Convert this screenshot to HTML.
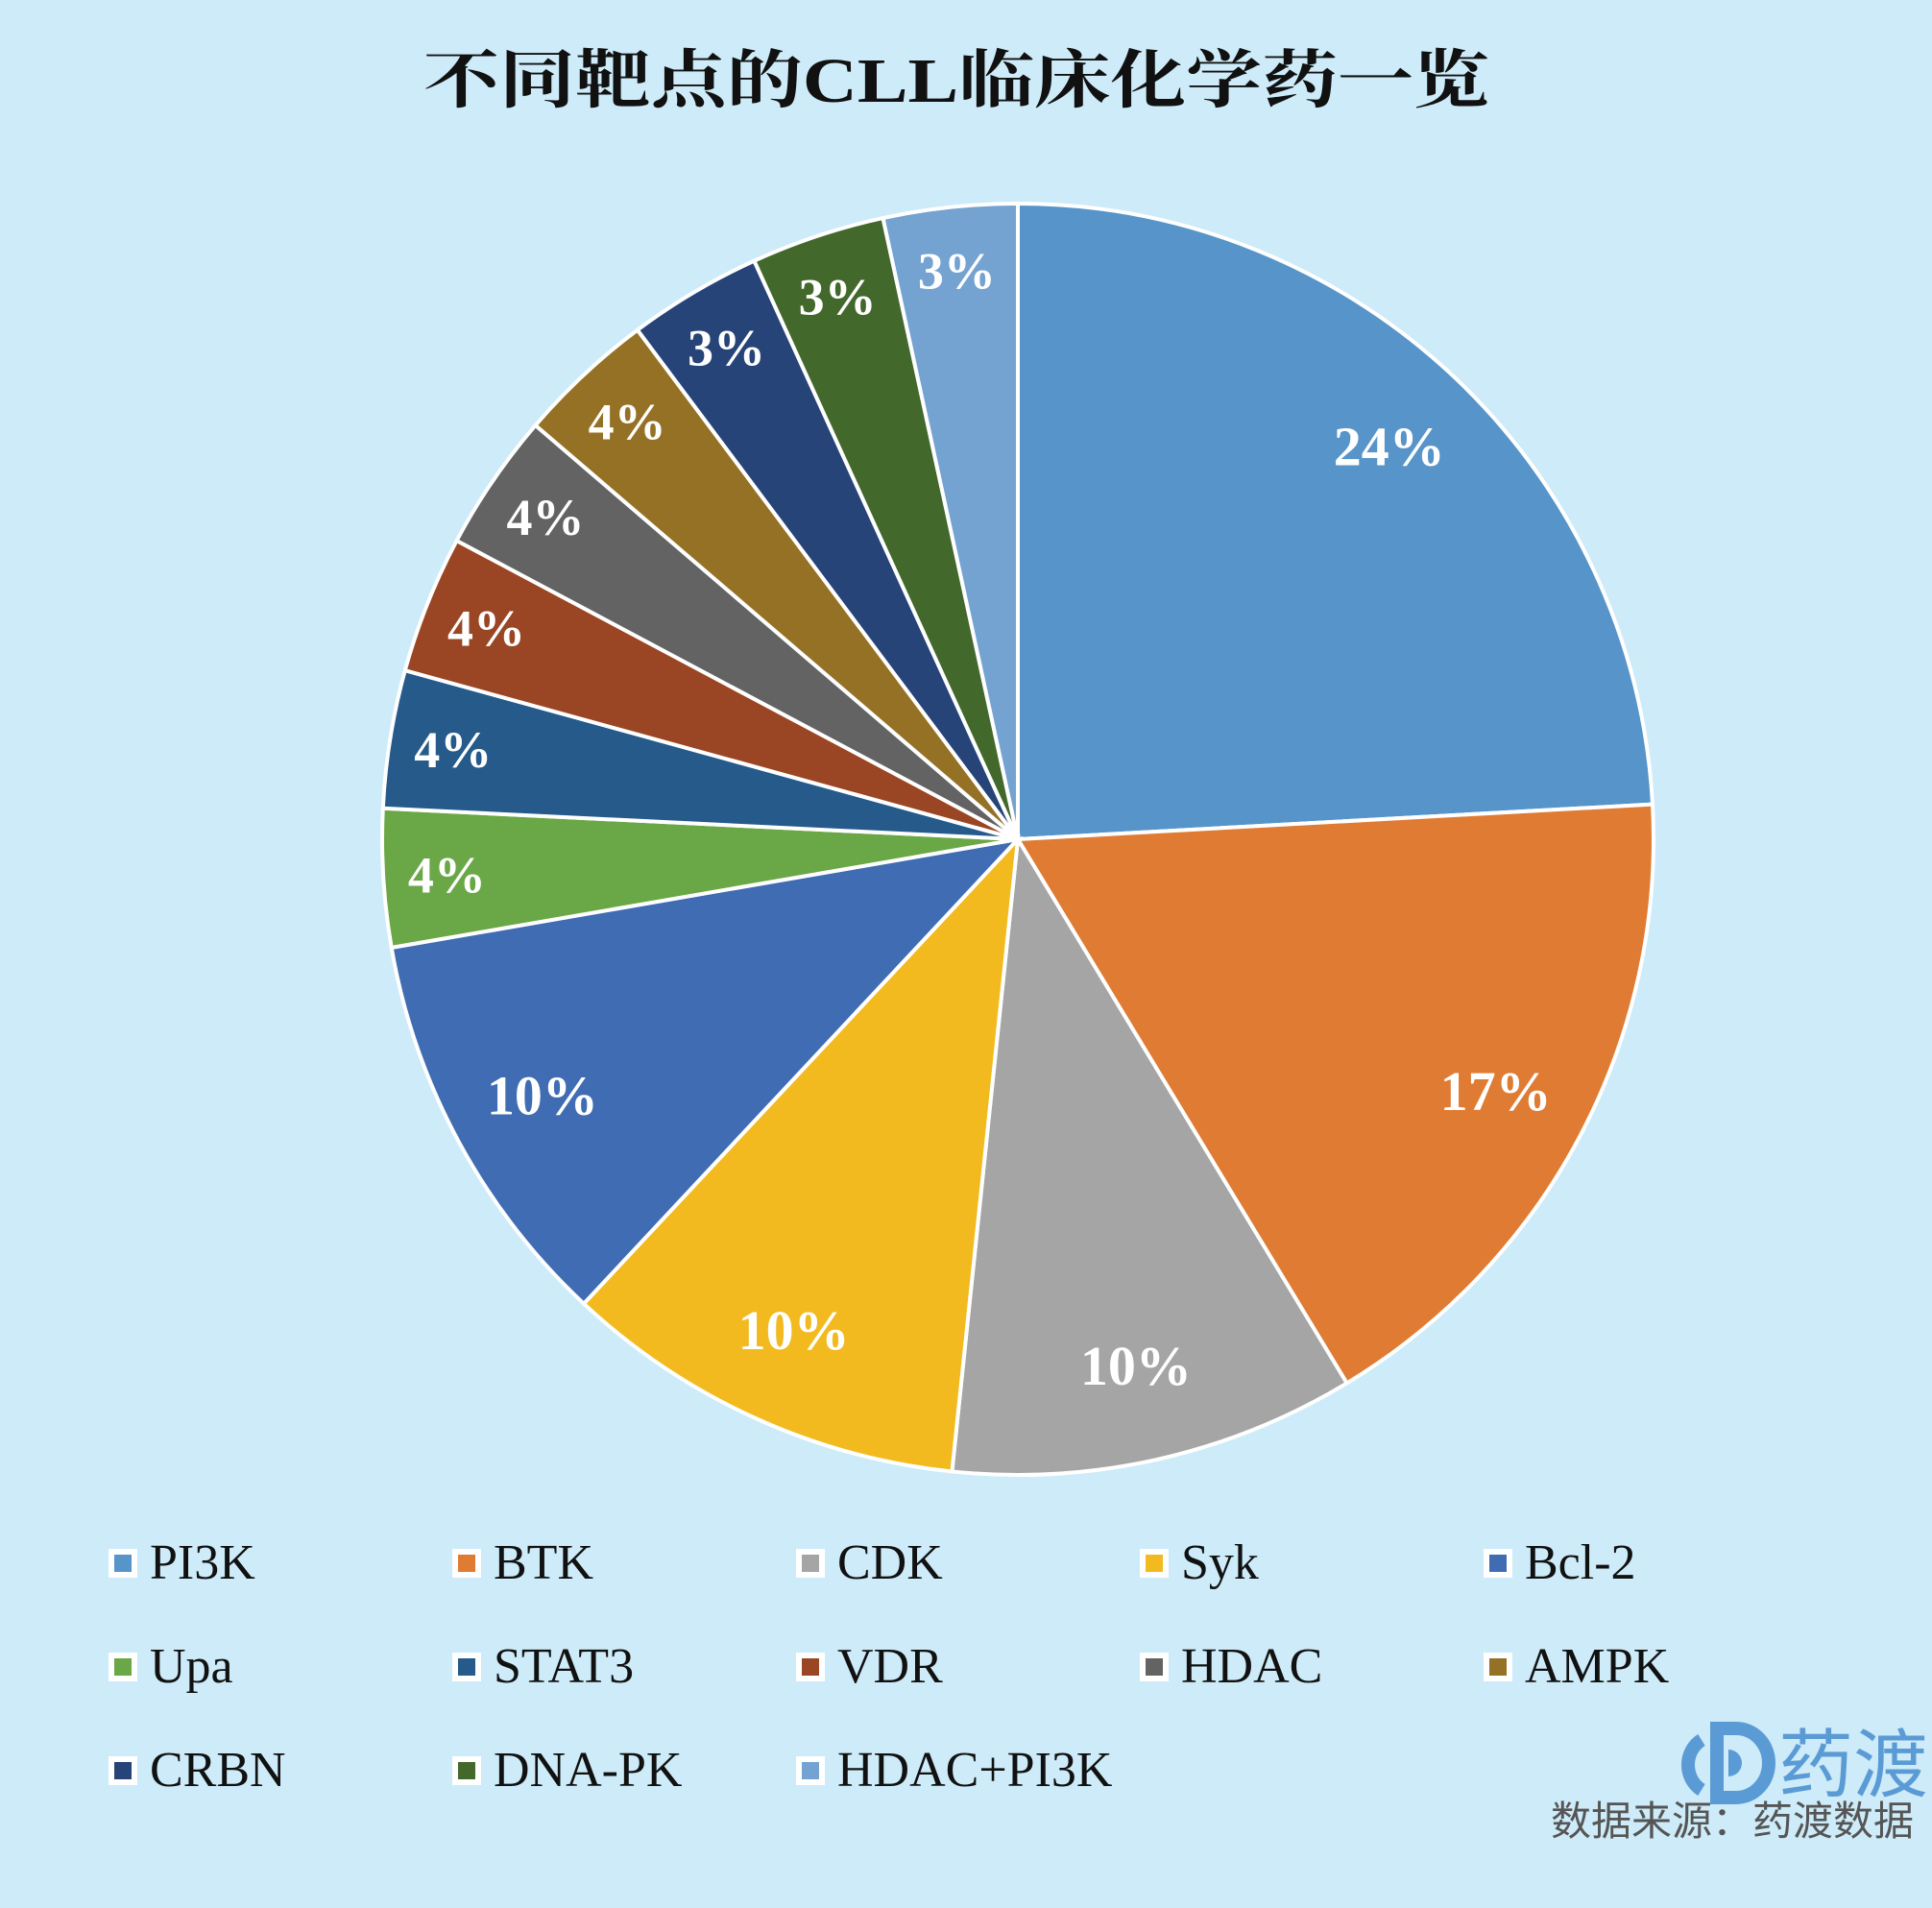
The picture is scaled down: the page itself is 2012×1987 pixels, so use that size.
<!DOCTYPE html>
<html><head><meta charset="utf-8"><style>
html,body{margin:0;padding:0;background:#CDEBF8;}
svg{display:block;}
</style></head><body>
<svg id="chart" width="2012" height="1987" viewBox="0 0 2012 1987" xmlns="http://www.w3.org/2000/svg">
<rect x="0" y="0" width="2012" height="1987" fill="#CDEBF8"/>
<text x="996" y="106" text-anchor="middle" textLength="1110" lengthAdjust="spacingAndGlyphs" font-family="'Liberation Serif','Noto Serif CJK SC',serif" font-weight="bold" font-size="66" fill="#111">不同靶点的CLL临床化学药一览</text>
<g id="slices"></g>
<g id="labels"></g>
<g id="legend"></g>
<g>
<path d="M1772 1812 a28 30 0 0 0 0 52" fill="none" stroke="#5B9BD5" stroke-width="14"/>
<path d="M1788 1800 h20 a34 36 0 0 1 0 72 h-20 z" fill="none" stroke="#5B9BD5" stroke-width="14"/>
<path d="M1800 1822 v28 a14 14 0 0 0 0 -28z" fill="#5B9BD5"/>
<text x="1930" y="1865" text-anchor="middle" font-family="'Noto Sans CJK SC',sans-serif" font-size="78" fill="#5B9BD5">药渡</text>
</g>
<text x="1993" y="1911" text-anchor="end" font-family="'Noto Sans CJK SC',sans-serif" font-size="42" fill="#555">数据来源：药渡数据</text>
</svg>
<script>
const categories = ["PI3K","BTK","CDK","Syk","Bcl-2","Upa","STAT3","VDR","HDAC","AMPK","CRBN","DNA-PK","HDAC+PI3K"];
const values = [24.1,17.2,10.3,10.3,10.3,3.5,3.5,3.5,3.5,3.5,3.4,3.4,3.4];
const colors = ["#5694C9","#E07B33","#A5A5A5","#F2BA1E","#3F6CB2","#6AA746","#255A8A","#9A4624","#636363","#957125","#264478","#43682C","#74A3D2"];
const NS="http://www.w3.org/2000/svg";
const cx=1060, cy=874, R=662;
const total=values.reduce((a,b)=>a+b,0);
function pt(a,r){return [cx+r*Math.sin(a), cy-r*Math.cos(a)];}
let acc=0;
const gs=document.getElementById('slices'), gl=document.getElementById('labels'), lg=document.getElementById('legend');
values.forEach((v,i)=>{
  const a0=acc/total*2*Math.PI; acc+=v; const a1=acc/total*2*Math.PI;
  const p0=pt(a0,R), p1=pt(a1,R);
  const large=(a1-a0)>Math.PI?1:0;
  const p=document.createElementNS(NS,'path');
  p.setAttribute('d',`M${cx},${cy} L${p0[0]},${p0[1]} A${R},${R} 0 ${large} 1 ${p1[0]},${p1[1]} Z`);
  p.setAttribute('fill',colors[i]); p.setAttribute('stroke','#fff'); p.setAttribute('stroke-width','4');
  
  
  gs.appendChild(p);
  const am=(a0+a1)/2; const rr=(v>8)?0.85:0.9; const lp=pt(am,R*rr);
  const t=document.createElementNS(NS,'text');
  t.setAttribute('x',lp[0]); t.setAttribute('y',lp[1]+19);
  t.setAttribute('text-anchor','middle'); t.setAttribute('font-family',"'Liberation Serif',serif");
  t.setAttribute('font-weight','bold'); t.setAttribute('font-size', v>8?'58':'54'); t.setAttribute('fill','#fff');
  t.textContent=Math.round(v)+'%';
  
  
  gl.appendChild(t);
  const col=i%5, row=Math.floor(i/5);
  const x=113+col*358, y=1628+row*108;
  const g=document.createElementNS(NS,'g');
  
  
  const b=document.createElementNS(NS,'rect');
  b.setAttribute('x',x); b.setAttribute('y',y-15); b.setAttribute('width',30); b.setAttribute('height',30); b.setAttribute('fill','#fff');
  const c=document.createElementNS(NS,'rect');
  c.setAttribute('x',x+6); c.setAttribute('y',y-9); c.setAttribute('width',18); c.setAttribute('height',18); c.setAttribute('fill',colors[i]);
  const lt=document.createElementNS(NS,'text');
  lt.setAttribute('x',x+43); lt.setAttribute('y',y+16);
  lt.setAttribute('font-family',"'Liberation Serif',serif"); lt.setAttribute('font-size','52'); lt.setAttribute('fill','#111');
  lt.textContent=categories[i];
  g.appendChild(b); g.appendChild(c); g.appendChild(lt);
  lg.appendChild(g);
});
</script>
</body></html>
